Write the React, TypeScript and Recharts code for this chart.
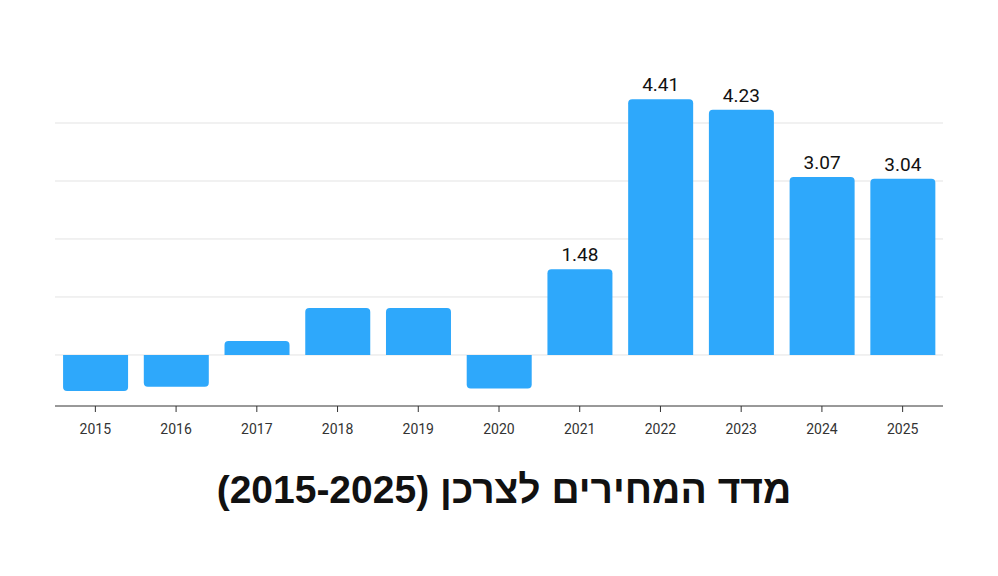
import { Bar, BarChart, CartesianGrid, LabelList, Rectangle, XAxis, YAxis } from 'recharts';

const years = ['2015', '2016', '2017', '2018', '2019', '2020', '2021', '2022', '2023', '2024', '2025'];
const cpi = [-0.62, -0.55, 0.24, 0.81, 0.81, -0.58, 1.48, 4.41, 4.23, 3.07, 3.04];
const gridTicks = [0, 1, 2, 3, 4];

const data = years.map((year, i) => ({ year, cpi: cpi[i] }));

const BAR_COLOR = '#2EA8FB';

// round only the end of the bar away from zero
const RoundedBar = (props: any) => {
    const { x, y, width, height, value } = props;
    const top = height < 0 ? y + height : y;
    const h = Math.abs(height);
    const radius = value < 0 ? [0, 0, 4, 4] : [4, 4, 0, 0];
    return <Rectangle x={x} y={top} width={width} height={h} radius={radius as any} fill={BAR_COLOR} />;
};

const renderLabel = (props: any) => {
    const { x, y, width, value } = props;
    if (value < 1) return null;
    return (
        <text x={x + width / 2} y={y - 8} textAnchor="middle" fill="#111" fontSize={19} fontFamily="Roboto" fontWeight={400}>
            {value.toFixed(2)}
        </text>
    );
};

export default function App() {
    return (
        <div style={{ position: 'absolute', left: 0, top: 0, width: 998, height: 576, background: '#fff' }}>
            <BarChart
                width={998}
                height={450}
                data={data}
                margin={{ top: 65, right: 55, left: 55, bottom: 0 }}
                barCategoryGap="10%"
            >
                <CartesianGrid vertical={false} stroke="#E3E3E3" horizontalValues={gridTicks} />
                <XAxis
                    dataKey="year"
                    height={44}
                    axisLine={{ stroke: '#333' }}
                    tickLine={{ stroke: '#333' }}
                    tickSize={6}
                    tick={{ fill: '#333', fontSize: 14, fontFamily: 'Roboto' }}
                    tickMargin={12}
                />
                <YAxis hide domain={[-0.88, 5]} ticks={gridTicks} />
                <Bar dataKey="cpi" fill={BAR_COLOR} shape={RoundedBar} isAnimationActive={false}>
                    <LabelList dataKey="cpi" content={renderLabel} />
                </Bar>
            </BarChart>
            <div
                dir="rtl"
                style={{
                    position: 'absolute',
                    left: 5,
                    width: 998,
                    top: 468,
                    textAlign: 'center',
                    fontFamily: '"Liberation Sans"',
                    fontWeight: 'bold',
                    fontSize: 39,
                    color: '#111',
                }}
            >
                מדד המחירים לצרכן (2015-2025)
            </div>
        </div>
    );
}
